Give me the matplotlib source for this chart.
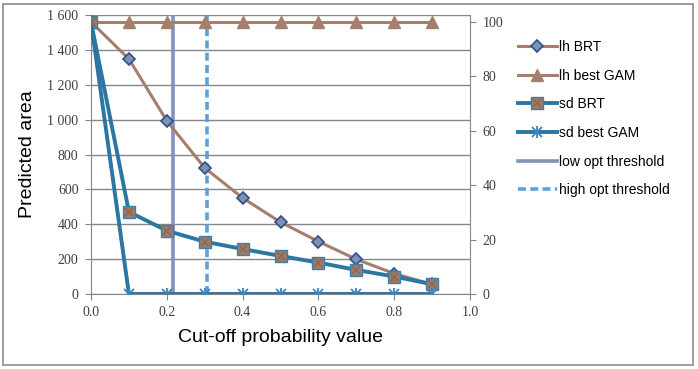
import matplotlib.pyplot as plt
from matplotlib.patches import Rectangle
from matplotlib.legend_handler import HandlerTuple
from matplotlib.ticker import FuncFormatter

# cut-off probability values
cutoff = [0.0, 0.1, 0.2, 0.3, 0.4, 0.5, 0.6, 0.7, 0.8, 0.9]

# predicted area per model
lh_brt = [1560, 1348, 993, 723, 551, 412, 301, 199, 117, 55]
lh_gam = [1560, 1560, 1560, 1560, 1560, 1560, 1560, 1560, 1560, 1560]
sd_brt = [1560, 471, 363, 300, 258, 218, 180, 138, 100, 56]
sd_gam = [1560, 0, 0, 0, 0, 0, 0, 0, 0, 0]

low_opt = 0.217
high_opt = 0.307

brown = '#a67f6c'
blue = '#2b76a2'
grey = '#868686'

plt.rcParams['font.family'] = ['Liberation Sans', 'DejaVu Sans']

fig = plt.figure(figsize=(6.98, 3.69), dpi=100)
fig.patches.append(Rectangle((0.005, 0.012), 0.988, 0.978, transform=fig.transFigure,
                             fill=False, edgecolor='#8c8c8c', linewidth=1.2))

ax = fig.add_axes([0.1304, 0.2033, 0.5430, 0.7560])

ax.plot(cutoff, lh_brt, color=brown, lw=2.2, marker='D', ms=6,
        mfc='#8090b0', mec='#2f4f8a', mew=1.2, label='lh BRT', zorder=4)
ax.plot(cutoff, lh_gam, color=brown, lw=2.2, marker='^', ms=8,
        mfc=brown, mec=brown, label='lh best GAM', zorder=3)
sq, = ax.plot(cutoff, sd_brt, color=blue, lw=2.8, marker='s', ms=8,
              mfc='#a07a66', mec='#3a80aa', mew=1.0, zorder=5)
sqx, = ax.plot(cutoff, sd_brt, ls='none', marker='x', ms=6, mec='#8a6a5a',
               mew=1.2, zorder=6)
gam, = ax.plot(cutoff, sd_gam, color=blue, lw=2.8, marker='x', ms=7,
               mec='#3a86c0', mew=1.3, zorder=5)
gams, = ax.plot(cutoff[1:], sd_gam[1:], ls='none', marker='|', ms=9,
                mec='#3a86c0', mew=1.3, zorder=5)
low = ax.axvline(low_opt, color='#7f93bb', lw=2.6, zorder=2)
high = ax.axvline(high_opt, color='#5aa2d8', lw=2.6, ls=(0, (2.2, 1.2)), zorder=2)

ax.set_xlim(0, 1.0)
ax.set_ylim(0, 1600)
ax.set_xticks([0.0, 0.2, 0.4, 0.6, 0.8, 1.0])
ax.set_yticks(range(0, 1601, 200))
ax.yaxis.set_major_formatter(FuncFormatter(lambda v, p: f'{int(v):,}'.replace(',', ' ')))
ax.xaxis.set_major_formatter(FuncFormatter(lambda v, p: f'{v:.1f}'))
ax.grid(axis='y', color=grey, lw=1.0)
ax.set_axisbelow(True)
for s in ['top', 'right']:
    ax.spines[s].set_visible(False)
for s in ['left', 'bottom']:
    ax.spines[s].set_color(grey)
ax.tick_params(axis='both', colors=grey, length=4, direction='out', pad=5)
for lbl in ax.get_xticklabels() + ax.get_yticklabels():
    lbl.set_family('Liberation Serif')
    lbl.set_fontsize(10)
    lbl.set_color('#404040')

ax.set_xlabel('Cut-off probability value', fontsize=14, labelpad=7)
ax.set_ylabel('Predicted area', fontsize=14, labelpad=8)

ax2 = ax.twinx()
ax2.set_ylim(0, 102.6)
ax2.set_yticks(range(0, 101, 20))
for s in ['top', 'left', 'bottom']:
    ax2.spines[s].set_visible(False)
ax2.spines['right'].set_color(grey)
ax2.tick_params(axis='y', colors=grey, length=4, direction='out', pad=5)
for lbl in ax2.get_yticklabels():
    lbl.set_family('Liberation Serif')
    lbl.set_fontsize(10)
    lbl.set_color('#404040')

handles = [ax.lines[0], ax.lines[1], (sq, sqx), (gam, gams), low, high]
labels = ['lh BRT', 'lh best GAM', 'sd BRT', 'sd best GAM',
          'low opt threshold', 'high opt threshold']
fig.legend(handles, labels, loc='upper left', bbox_to_anchor=(0.724, 0.925),
           frameon=False, fontsize=10, handlelength=2.8, labelspacing=1.05,
           handletextpad=0.15, handler_map={tuple: HandlerTuple(ndivide=1)})

fig.savefig('out.png', dpi=100)
